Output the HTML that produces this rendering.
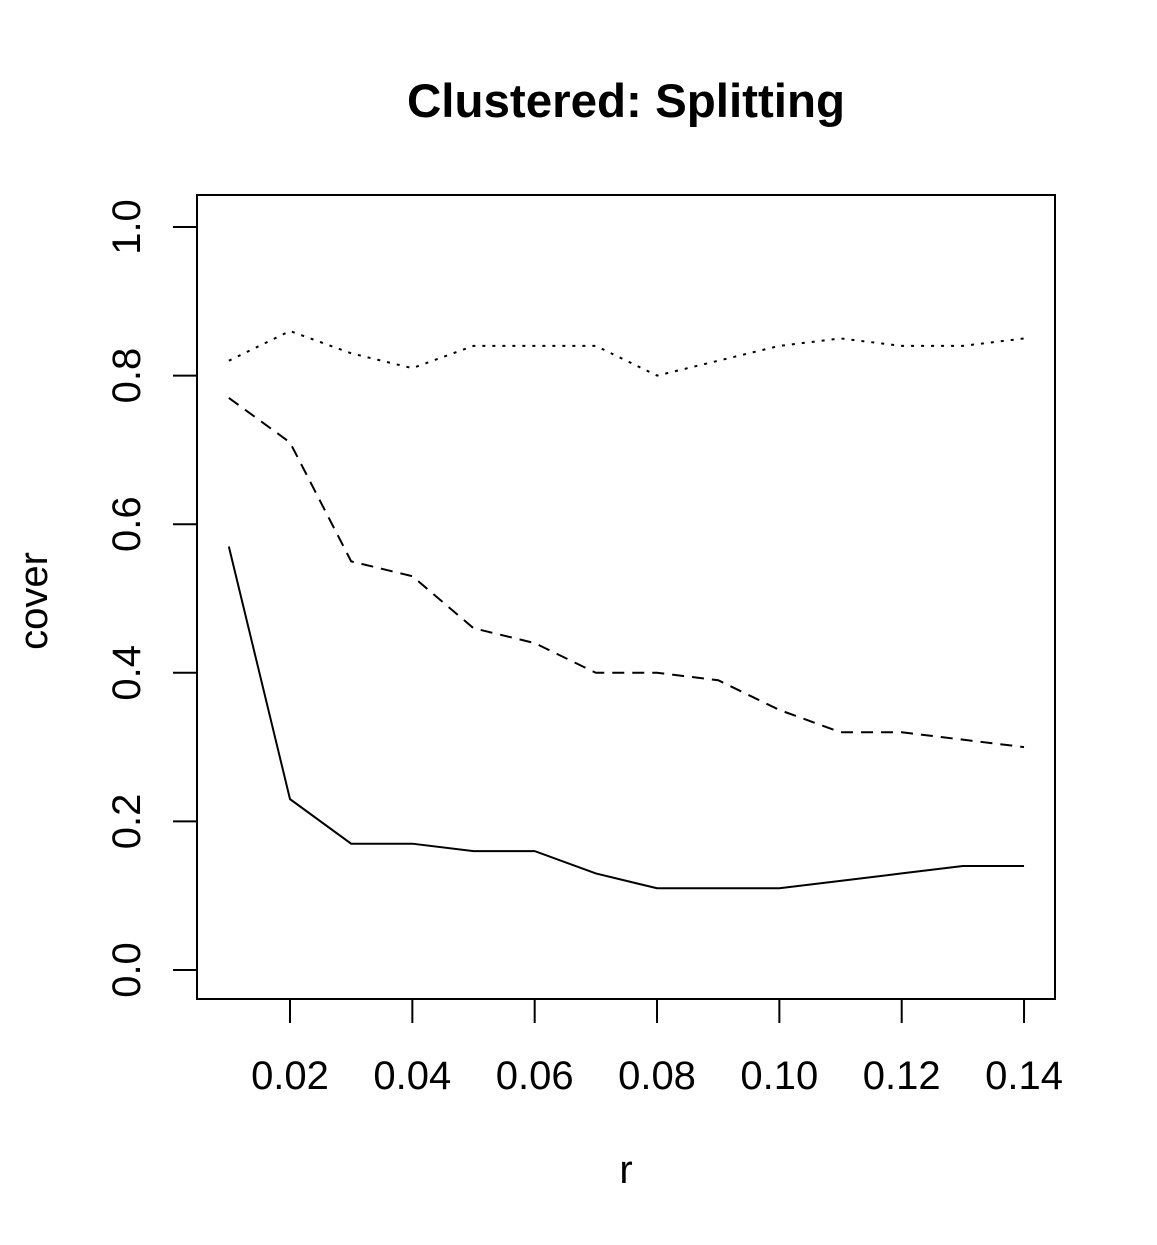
<!DOCTYPE html>
<html><head><meta charset="utf-8"><style>body{margin:0;background:#fff}svg{display:block}text{font-family:"Liberation Sans",Arial,sans-serif;fill:#000}</style></head>
<body>
<svg id="chart" width="1157" height="1245" xmlns="http://www.w3.org/2000/svg">
<text x="626" y="117" font-size="47.5" font-weight="bold" text-anchor="middle">Clustered: Splitting</text>
<rect x="197" y="195" width="858" height="804" fill="none" stroke="#000" stroke-width="2"/>
<text x="626" y="1183" font-size="40" text-anchor="middle">r</text>
<text transform="translate(47,601) rotate(-90)" font-size="40" text-anchor="middle">cover</text>
<g id="axes"></g><g id="series"></g>
</svg>
<script>
const rValues=[0.01,0.02,0.03,0.04,0.05,0.06,0.07,0.08,0.09,0.10,0.11,0.12,0.13,0.14];
const solidSeries=[0.57,0.23,0.17,0.17,0.16,0.16,0.13,0.11,0.11,0.11,0.12,0.13,0.14,0.14];
const dashedSeries=[0.77,0.71,0.55,0.53,0.46,0.44,0.40,0.40,0.39,0.35,0.32,0.32,0.31,0.30];
const dottedSeries=[0.82,0.86,0.83,0.81,0.84,0.84,0.84,0.80,0.82,0.84,0.85,0.84,0.84,0.85];
const xTicks=[0.02,0.04,0.06,0.08,0.10,0.12,0.14];
const xTickLabels=["0.02","0.04","0.06","0.08","0.10","0.12","0.14"];
const yTicks=[0,0.2,0.4,0.6,0.8,1.0];
const yTickLabels=["0.0","0.2","0.4","0.6","0.8","1.0"];
const NS="http://www.w3.org/2000/svg";
const xs=v=>290+(v-0.02)*6117;
const ys=v=>970-v*743;
const axes=document.getElementById('axes'),series=document.getElementById('series');
function mk(t,a,p){const e=document.createElementNS(NS,t);for(const k in a)e.setAttribute(k,a[k]);p.appendChild(e);return e;}
let xl=mk('line',{x1:xs(xTicks[0]),x2:xs(xTicks[xTicks.length-1]),y1:999,y2:999,stroke:'#000','stroke-width':2},axes);


xTicks.forEach((v,i)=>{
 const t=mk('line',{x1:xs(v),x2:xs(v),y1:999,y2:1023,stroke:'#000','stroke-width':2},axes);
 
 
 const l=mk('text',{x:xs(v),y:1089,'font-size':40,'text-anchor':'middle'},axes);l.textContent=xTickLabels[i];
 
 
});
let yl=mk('line',{x1:197,x2:197,y1:ys(0),y2:ys(1),stroke:'#000','stroke-width':2},axes);


yTicks.forEach((v,i)=>{
 const t=mk('line',{x1:173,x2:197,y1:ys(v),y2:ys(v),stroke:'#000','stroke-width':2},axes);
 
 
 const l=mk('text',{transform:`translate(140,${ys(v)}) rotate(-90)`,'font-size':40,'text-anchor':'middle'},axes);l.textContent=yTickLabels[i];
 
 
});
function line(data,dash,name){
 const p=mk('polyline',{points:data.map((v,i)=>xs(rValues[i])+','+ys(v)).join(' '),fill:'none',stroke:'#000','stroke-width':2,'stroke-dasharray':dash},series);
 
 
}
line(solidSeries,'none','solid-line');
line(dashedSeries,'12,8','dashed-line');
line(dottedSeries,'3,7','dotted-line');
</script>
</body></html>
